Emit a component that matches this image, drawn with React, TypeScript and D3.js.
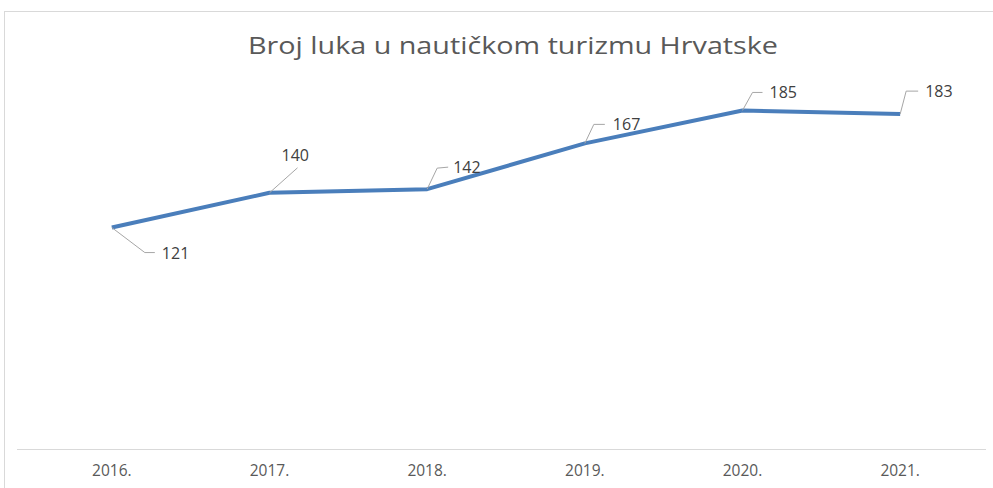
import React from "react";
import * as d3 from "d3";

const categories = ["2016.", "2017.", "2018.", "2019.", "2020.", "2021."];
const values = [121, 140, 142, 167, 185, 183];
const title = "Broj luka u nautičkom turizmu Hrvatske";

const W = 993;
const H = 488;

export default function App() {
  const x = d3.scaleBand<string>().domain(categories).range([33, 979]);
  const y = d3.scaleLinear().domain([0, 200]).range([449, 83]);
  const cx = (c: string) => (x(c) ?? 0) + x.bandwidth() / 2;
  const line = d3
    .line<number>()
    .x((_, i) => cx(categories[i]))
    .y((v) => y(v));

  const labelOffsets = [
    { pts: [[0, 0], [33, 25], [43, 25]], tx: 50, ty: 25 },
    { pts: [[0, 0], [28, -25]], tx: 12, ty: -38 },
    { pts: [[0, 0], [10, -21], [21, -22]], tx: 26, ty: -22 },
    { pts: [[0, 0], [9, -19], [20, -19]], tx: 28, ty: -19 },
    { pts: [[0, 0], [10, -18], [20, -18]], tx: 27, ty: -18 },
    { pts: [[0, 0], [6, -23], [18, -23]], tx: 25, ty: -23 },
  ];

  return (
    <svg
      width={W}
      height={H}
      style={{ position: "absolute", left: 0, top: 0, background: "#fff" }}
      fontFamily="'Open Sans', sans-serif"
    >
      <rect x={4.5} y={11.5} width={W + 10} height={H + 10} fill="#fff" stroke="#d9d9d9" />
      <text
        x={513}
        y={45}
        textAnchor="middle"
        dominantBaseline="central"
        fontSize={23}
        fill="#595959"
        textLength={530}
        lengthAdjust="spacingAndGlyphs"
      >
        {title}
      </text>
      <line x1={17} x2={986} y1={449.5} y2={449.5} stroke="#d9d9d9" strokeWidth={1} />
      {categories.map((c) => (
        <text
          key={c}
          x={cx(c)}
          y={470}
          textAnchor="middle"
          dominantBaseline="central"
          fontSize={15.5}
          fill="#595959"
        >
          {c}
        </text>
      ))}
      <path d={line(values) ?? ""} fill="none" stroke="#4a7ebb" strokeWidth={4} strokeLinejoin="round" />
      {values.map((v, i) => {
        const px = cx(categories[i]);
        const py = y(v);
        const o = labelOffsets[i];
        return (
          <g key={i}>
            <polyline
              points={o.pts.map(([a, b]) => `${px + a},${py + b}`).join(" ")}
              fill="none"
              stroke="#a6a6a6"
              strokeWidth={1}
            />
            <text
              x={px + o.tx}
              y={py + o.ty}
              dominantBaseline="central"
              fontSize={16}
              fill="#404040"
            >
              {v}
            </text>
          </g>
        );
      })}
    </svg>
  );
}
